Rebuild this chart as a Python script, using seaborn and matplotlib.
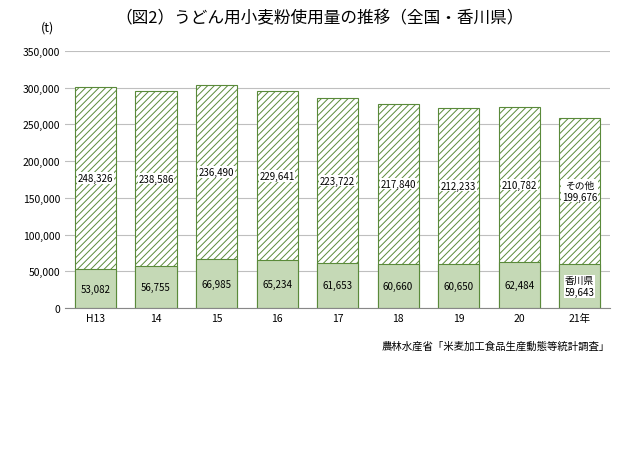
import matplotlib
matplotlib.use("Agg")
import matplotlib.pyplot as plt
import seaborn as sns
import pandas as pd

years = ["H13", "14", "15", "16", "17", "18", "19", "20", "21年"]
kagawa = [53082, 56755, 66985, 65234, 61653, 60660, 60650, 62484, 59643]
other = [248326, 238586, 236490, 229641, 223722, 217840, 212233, 210782, 199676]

plt.rcParams["font.family"] = "Noto Sans CJK JP"
plt.rcParams["hatch.color"] = "#a3cf86"
plt.rcParams["hatch.linewidth"] = 0.7

fig = plt.figure(figsize=(6.4, 4.6), dpi=100)
ax = fig.add_axes([0.102, 0.328, 0.851, 0.559])
df = pd.DataFrame({"year": years, "kagawa": kagawa,
                   "total": [a + b for a, b in zip(kagawa, other)]})
sns.barplot(data=df, x="year", y="total", ax=ax, color="white",
            edgecolor="#5a8a3a", linewidth=0.8, width=0.68, hatch="/////")
sns.barplot(data=df, x="year", y="kagawa", ax=ax, color="#c4dfb0",
            edgecolor="#5a8a3a", linewidth=0.8, width=0.68)
for i, (k, o) in enumerate(zip(kagawa, other)):
    last = i == len(years) - 1
    ax.text(i, k / 2, ("香川県\n" if last else "") + f"{k:,}", ha="center", va="center",
            fontsize=7, bbox=dict(fc="white", ec="none", pad=0.5) if last else None)
    ax.text(i, k + o / 2, ("その他\n" if last else "") + f"{o:,}", ha="center", va="center",
            fontsize=7, bbox=dict(fc="white", ec="none", pad=0.5))
ax.set_ylim(0, 350000)
ax.set_yticks(range(0, 350001, 50000))
ax.set_yticklabels([f"{v:,}" for v in range(0, 350001, 50000)], fontsize=7.5)
ax.tick_params(axis="x", labelsize=7.5, length=0)
ax.tick_params(axis="y", length=0)
ax.grid(axis="y", color="#bfbfbf", linewidth=0.8)
ax.set_axisbelow(True)
ax.set_xlabel("")
ax.set_ylabel("")
for s in ["top", "right", "left"]:
    ax.spines[s].set_visible(False)
ax.spines["bottom"].set_color("#888888")
fig.text(0.064, 0.932, "(t)", fontsize=9)
fig.text(0.5, 0.95, "（図2）うどん用小麦粉使用量の推移（全国・香川県）", ha="center", fontsize=12)
fig.text(0.953, 0.24, "農林水産省「米麦加工食品生産動態等統計調査」", ha="right", fontsize=7.5)
fig.savefig("out.png", dpi=100)
